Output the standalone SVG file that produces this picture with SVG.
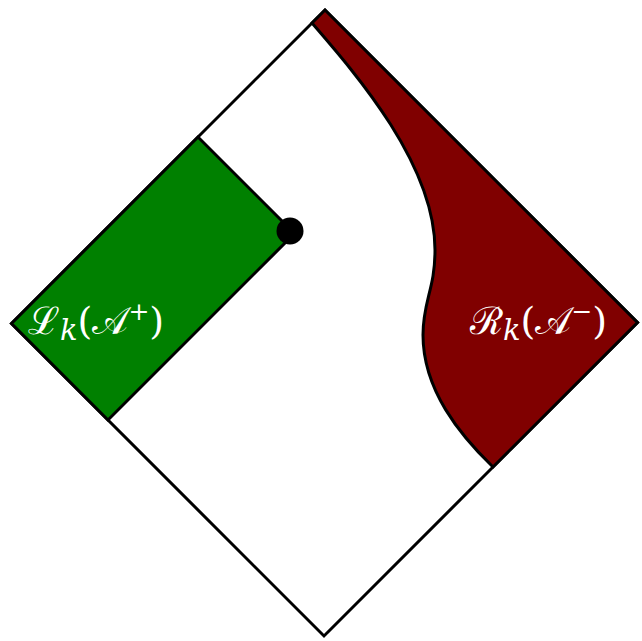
<svg xmlns="http://www.w3.org/2000/svg" width="642" height="641" viewBox="0 0 642 641">
<style>
.edge{fill:none;stroke:#000;stroke-width:3;stroke-linejoin:miter}
.lbl{font-family:"DejaVu Serif","Liberation Serif",serif;fill:#fff;font-size:38px}
.it{font-style:italic;font-size:29px}
.sup{font-size:25px}
</style>
<rect width="642" height="641" fill="#fff"/>
<g id="diamond">
<path class="edge" d="M325,10 L637.5,322.5 L324,636 L11.5,323.5 Z"/>
</g>
<g id="right-region">
<path d="M312,23 C357,75 435,165 435,250 C435,290 423,300 423,335 C423,390 460,435 493,467 L637.5,322.5 L325,10 Z" fill="#800000" stroke="#000" stroke-width="3" stroke-linejoin="miter"/>
<text class="lbl" x="470" y="334">ℛ<tspan class="it" dy="6">k</tspan><tspan dy="-6">(𝒜</tspan><tspan class="sup" dy="-14">−</tspan><tspan dy="14">)</tspan></text>
</g>
<g id="left-region">
<path d="M11.5,323.5 L198,137 L294.5,233.5 L108,420 Z" fill="#008000" stroke="#000" stroke-width="3" stroke-linejoin="miter"/>
<text class="lbl" x="28" y="334">ℒ<tspan class="it" dy="6">k</tspan><tspan dy="-6">(𝒜</tspan><tspan class="sup" dy="-14">+</tspan><tspan dy="14">)</tspan></text>
</g>
<g id="point">
<circle cx="290" cy="231" r="13.5" fill="#000"/>
</g>
</svg>
